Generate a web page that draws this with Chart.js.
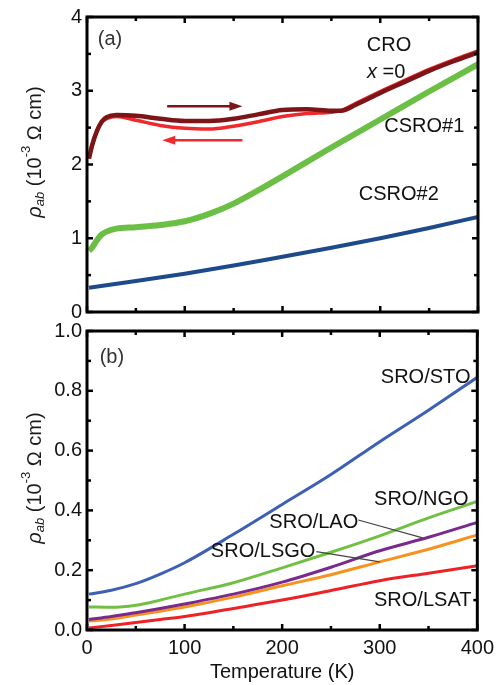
<!DOCTYPE html>
<html>
<head>
<meta charset="utf-8">
<script src="https://cdn.jsdelivr.net/npm/chart.js@4.4.1/dist/chart.umd.min.js"></script>
<style>
    html, body { margin: 0; padding: 0; background: #fff; }
    #wrap { position: relative; width: 500px; height: 685px; }
    canvas { position: absolute; left: 0; }
    #chartA { top: 0; }
    #chartB { top: 310px; }
</style>
</head>
<body>
<div id="wrap">
    <canvas id="chartA" width="500" height="330"></canvas>
    <canvas id="chartB" width="500" height="375"></canvas>
</div>
<script>
// ---- panel (a): Ca2RuO4 / CSRO films ----
const croT = [2, 5, 10, 15, 20, 30, 50, 75, 100, 125, 150, 175, 200, 225, 250, 260, 275, 300, 325, 350, 375, 400];
const croHeat = [2.08, 2.25, 2.45, 2.58, 2.64, 2.67, 2.66, 2.62, 2.59, 2.59, 2.62, 2.68, 2.74, 2.75, 2.73, 2.73, 2.81, 2.97, 3.12, 3.27, 3.40, 3.52];
const croCool = [2.08, 2.25, 2.45, 2.57, 2.62, 2.65, 2.60, 2.53, 2.49, 2.48, 2.52, 2.58, 2.65, 2.69, 2.71, 2.73, 2.83, 2.99, 3.14, 3.29, 3.42, 3.54];

const csro1T = [2, 5, 10, 15, 20, 30, 50, 75, 100, 125, 150, 175, 200, 250, 300, 350, 400];
const csro1 = [0.83, 0.87, 0.97, 1.05, 1.09, 1.13, 1.15, 1.18, 1.23, 1.33, 1.47, 1.65, 1.84, 2.23, 2.61, 2.99, 3.36];

const csro2T = [2, 50, 100, 150, 200, 250, 300, 350, 400];
const csro2 = [0.33, 0.42, 0.52, 0.63, 0.75, 0.87, 1.00, 1.14, 1.29];

// ---- panel (b): SRO on different substrates ----
const sroT = [2, 25, 50, 75, 100, 150, 200, 250, 300, 350, 400];
const sroSTO = [0.120, 0.133, 0.155, 0.187, 0.225, 0.320, 0.420, 0.520, 0.630, 0.735, 0.845];
const sroNGO = [0.077, 0.076, 0.083, 0.100, 0.120, 0.158, 0.208, 0.260, 0.315, 0.375, 0.430];
const sroLAO = [0.035, 0.045, 0.058, 0.072, 0.087, 0.120, 0.160, 0.210, 0.265, 0.310, 0.360];
const sroLSGO = [0.030, 0.037, 0.050, 0.063, 0.077, 0.110, 0.148, 0.185, 0.228, 0.270, 0.318];
const sroLSAT = [0.007, 0.015, 0.025, 0.035, 0.045, 0.072, 0.100, 0.132, 0.165, 0.190, 0.215];

const xTicks = [0, 100, 200, 300, 400];
const yTicksA = [0, 1, 2, 3, 4];
const yTicksB = [0, 0.2, 0.4, 0.6, 0.8, 1.0];

const colors = {
    darkRed: '#7d1518',
    red: '#ee2a2e',
    green: '#6cbf45',
    navy: '#1d4a8a',
    blue: '#3d5fb4',
    lime: '#72c043',
    purple: '#7a2a8c',
    orange: '#f7921e',
    lsat: '#ec2227'
};

const FONT = '"Liberation Sans", Arial, sans-serif';

// text annotations, in data coordinates
const labelsA = [
    { text: '(a)', t: 11, v: 3.69, align: 'left', color: '#333' },
    { text: 'CRO', t: 309, v: 3.61, align: 'center' },
    { text: 'CSRO#1', t: 345, v: 2.52, align: 'center' },
    { text: 'CSRO#2', t: 319, v: 1.59, align: 'center' }
];
const labelsB = [
    { text: '(b)', t: 13, v: 0.913, align: 'left', color: '#333' },
    { text: 'SRO/STO', t: 393, v: 0.846, align: 'right' },
    { text: 'SRO/NGO', t: 391, v: 0.435, align: 'right' },
    { text: 'SRO/LAO', t: 278, v: 0.358, align: 'right' },
    { text: 'SRO/LSGO', t: 234, v: 0.261, align: 'right' },
    { text: 'SRO/LSAT', t: 394, v: 0.100, align: 'right' }
];
const leadersB = [
    { t0: 278, v0: 0.368, t1: 344, v1: 0.308 },
    { t0: 235, v0: 0.262, t1: 300, v1: 0.228 }
];
const arrowsA = [
    { t0: 82, t1: 159, v: 2.79, color: colors.darkRed },
    { t0: 159, t1: 77, v: 2.33, color: colors.red }
];

function series(xs, ys) {
    return xs.map((x, i) => ({ x: x, y: ys[i] }));
}

function line(label, xs, ys, color, width) {
    return {
        label: label,
        data: series(xs, ys),
        borderColor: color,
        backgroundColor: color,
        borderWidth: width,
        pointRadius: 0,
        cubicInterpolationMode: 'monotone',
        fill: false
    };
}

// frame + inward major/minor ticks on all four sides
const framePlugin = {
    id: 'frame',
    afterDraw(chart) {
        const { ctx, chartArea: a, scales } = chart;
        ctx.save();
        ctx.strokeStyle = '#000';
        ctx.lineWidth = 3;
        ctx.strokeRect(a.left, a.top, a.right - a.left, a.bottom - a.top);

        ctx.lineWidth = 2.5;
        const mark = (x0, y0, x1, y1) => {
            ctx.beginPath();
            ctx.moveTo(x0, y0);
            ctx.lineTo(x1, y1);
            ctx.stroke();
        };
        const withMinor = vals => {
            const out = [];
            vals.forEach((v, i) => {
                out.push({ v: v, major: true });
                if (i < vals.length - 1) out.push({ v: (v + vals[i + 1]) / 2, major: false });
            });
            return out;
        };
        withMinor(scales.x.ticks.map(t => t.value)).forEach(t => {
            const px = scales.x.getPixelForValue(t.v);
            const len = t.major ? 6 : 4;
            mark(px, a.bottom, px, a.bottom - len);
            mark(px, a.top, px, a.top + len);
        });
        withMinor(scales.y.ticks.map(t => t.value)).forEach(t => {
            const py = scales.y.getPixelForValue(t.v);
            const len = t.major ? 6 : 4;
            mark(a.left, py, a.left + len, py);
            mark(a.right, py, a.right - len, py);
        });
        ctx.restore();
    }
};

// rotated y-axis title: rho_ab (10^-3 Ohm cm)
function drawYTitle(ctx, cx, cy) {
    const parts = [
        { s: 'ρ', font: 'italic 20px ' + FONT, dy: 0 },
        { s: 'ab', font: 'italic 13px ' + FONT, dy: 5 },
        { s: ' (10', font: '20px ' + FONT, dy: 0 },
        { s: '-3', font: '13px ' + FONT, dy: -9 },
        { s: ' Ω cm)', font: '20px ' + FONT, dy: 0 }
    ];
    ctx.save();
    ctx.translate(cx, cy);
    ctx.rotate(-Math.PI / 2);
    ctx.fillStyle = '#1a1a1a';
    ctx.textBaseline = 'middle';
    let total = 0;
    parts.forEach(p => { ctx.font = p.font; total += ctx.measureText(p.s).width; });
    let x = -total / 2;
    parts.forEach(p => {
        ctx.font = p.font;
        ctx.fillText(p.s, x, p.dy);
        x += ctx.measureText(p.s).width;
    });
    ctx.restore();
}

function makeLabelPlugin(labels, leaders, arrows, titleCy, extra) {
    return {
        id: 'labels',
        afterDatasetsDraw(chart) {
            const { ctx, scales } = chart;
            const px = t => scales.x.getPixelForValue(t);
            const py = v => scales.y.getPixelForValue(v);
            ctx.save();
            ctx.textBaseline = 'middle';
            labels.forEach(l => {
                ctx.font = '20px ' + FONT;
                ctx.fillStyle = l.color || '#111';
                ctx.textAlign = l.align;
                ctx.fillText(l.text, px(l.t), py(l.v));
            });
            ctx.strokeStyle = '#444';
            ctx.lineWidth = 1.2;
            leaders.forEach(d => {
                ctx.beginPath();
                ctx.moveTo(px(d.t0), py(d.v0));
                ctx.lineTo(px(d.t1), py(d.v1));
                ctx.stroke();
            });
            arrows.forEach(a => {
                const x0 = px(a.t0), x1 = px(a.t1), y = py(a.v);
                const dir = Math.sign(x1 - x0);
                ctx.strokeStyle = a.color;
                ctx.fillStyle = a.color;
                ctx.lineWidth = 2.5;
                ctx.beginPath();
                ctx.moveTo(x0, y);
                ctx.lineTo(x1 - dir * 8, y);
                ctx.stroke();
                ctx.beginPath();
                ctx.moveTo(x1, y);
                ctx.lineTo(x1 - dir * 13, y - 4.5);
                ctx.lineTo(x1 - dir * 13, y + 4.5);
                ctx.closePath();
                ctx.fill();
            });
            if (extra) extra(ctx, px, py);
            ctx.restore();
            drawYTitle(ctx, 35, titleCy);
        }
    };
}

function xScale(showLabels, axisHeight) {
    return {
        type: 'linear',
        min: 0,
        max: 400,
        afterBuildTicks: s => { s.ticks = xTicks.map(v => ({ value: v })); },
        afterFit: s => { s.height = axisHeight; },
        grid: { display: false, drawTicks: false },
        border: { display: false },
        ticks: {
            display: showLabels,
            color: '#111',
            padding: 6,
            font: { family: FONT, size: 20 }
        },
        title: {
            display: showLabels,
            text: 'Temperature (K)',
            color: '#111',
            padding: { top: 0, bottom: 1 },
            font: { family: FONT, size: 20 }
        }
    };
}

function yScale(max, tickVals, fmt) {
    return {
        type: 'linear',
        min: 0,
        max: max,
        afterBuildTicks: s => { s.ticks = tickVals.map(v => ({ value: v })); },
        afterFit: s => { s.width = 87; },
        grid: { display: false, drawTicks: false },
        border: { display: false },
        ticks: {
            color: '#111',
            padding: 5,
            font: { family: FONT, size: 20 },
            callback: fmt
        }
    };
}

const baseOptions = {
    responsive: false,
    animation: false,
    devicePixelRatio: 1,
    plugins: { legend: { display: false }, tooltip: { enabled: false } }
};

new Chart(document.getElementById('chartA'), {
    type: 'line',
    data: {
        datasets: [
            line('CSRO#2', csro2T, csro2, colors.navy, 4),
            line('CSRO#1', csro1T, csro1, colors.green, 6),
            line('CRO heating', croT, croHeat, colors.darkRed, 4.5),
            line('CRO cooling', croT, croCool, colors.red, 3.5)
        ]
    },
    options: {
        ...baseOptions,
        layout: { padding: { left: 0, right: 22, top: 12, bottom: 0 } },
        scales: {
            x: xScale(false, 18),
            y: yScale(4, yTicksA, v => String(v))
        }
    },
    plugins: [framePlugin, makeLabelPlugin(labelsA, [], arrowsA, 152, (ctx, px, py) => {
        // "x =0" with italic x
        const cx = px(306), cy = py(3.25);
        ctx.textAlign = 'left';
        ctx.fillStyle = '#111';
        ctx.font = 'italic 20px ' + FONT;
        const w1 = ctx.measureText('x').width;
        ctx.font = '20px ' + FONT;
        const w2 = ctx.measureText(' =0').width;
        const x0 = cx - (w1 + w2) / 2;
        ctx.font = 'italic 20px ' + FONT;
        ctx.fillText('x', x0, cy);
        ctx.font = '20px ' + FONT;
        ctx.fillText(' =0', x0 + w1, cy);
    })]
});

new Chart(document.getElementById('chartB'), {
    type: 'line',
    data: {
        datasets: [
            line('SRO/STO', sroT, sroSTO, colors.blue, 3),
            line('SRO/NGO', sroT, sroNGO, colors.lime, 3),
            line('SRO/LAO', sroT, sroLAO, colors.purple, 3),
            line('SRO/LSGO', sroT, sroLSGO, colors.orange, 3),
            line('SRO/LSAT', sroT, sroLSAT, colors.lsat, 3)
        ]
    },
    options: {
        ...baseOptions,
        layout: { padding: { left: 0, right: 22, top: 21, bottom: 0 } },
        scales: {
            x: xScale(true, 55),
            y: yScale(1.0, yTicksB, v => v.toFixed(1))
        }
    },
    plugins: [framePlugin, makeLabelPlugin(labelsB, leadersB, [], 478 - 310)]
});
</script>
</body>
</html>
